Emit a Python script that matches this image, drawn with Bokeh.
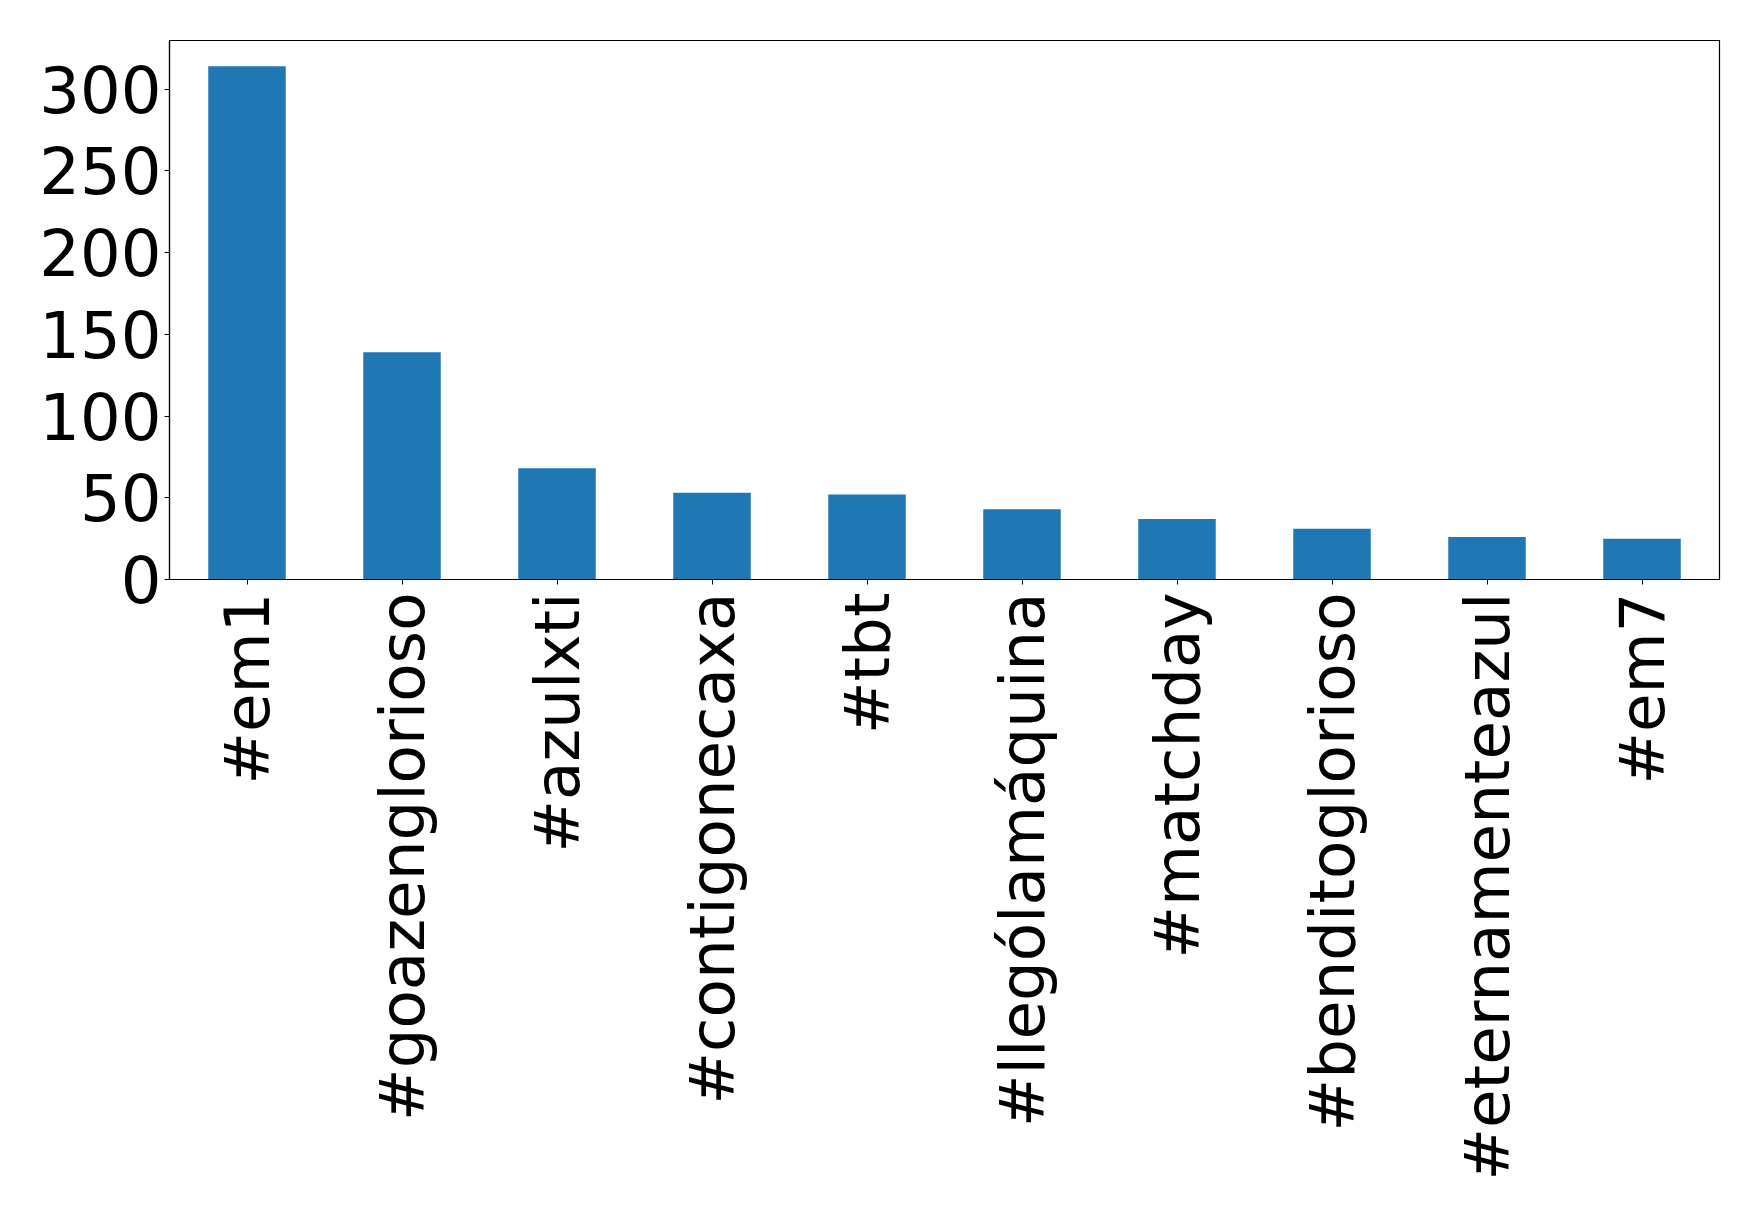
import math
from bokeh.plotting import figure
from bokeh.models import ColumnDataSource, FactorRange, Range1d, FixedTicker
from bokeh.embed import file_html
from bokeh.resources import INLINE

hashtags = ["#em1", "#goazenglorioso", "#azulxti", "#contigonecaxa", "#tbt",
            "#llególamáquina", "#matchday", "#benditoglorioso", "#eternamenteazul", "#em7"]
counts = [314, 139, 68, 53, 52, 43, 37, 31, 26, 25]
y_ticks = [0, 50, 100, 150, 200, 250, 300]

src = ColumnDataSource(data=dict(tag=hashtags, count=counts))

p = figure(
    x_range=FactorRange(factors=hashtags, range_padding=0),
    y_range=Range1d(0, max(counts) * 1.05),
    width=1743, height=1190,
    frame_width=1550, frame_height=539,
    min_border_left=169, min_border_top=40, min_border_right=24, min_border_bottom=40,
    output_backend="svg", toolbar_location=None,
    background_fill_color="white", border_fill_color="white",
)

p.vbar(x="tag", top="count", width=0.5, source=src,
       fill_color="#1f77b4", line_color=None)

p.outline_line_color = "black"
p.outline_line_width = 1.2
p.xgrid.grid_line_color = None
p.ygrid.grid_line_color = None

for ax in (p.xaxis[0], p.yaxis[0]):
    ax.axis_line_color = "black"
    ax.axis_line_width = 1.2
    ax.major_tick_out = 5
    ax.major_tick_in = 0
    ax.major_tick_line_color = "black"
    ax.minor_tick_line_color = None
    ax.major_label_text_font = "DejaVu Sans"
    ax.major_label_text_color = "black"

p.yaxis[0].major_label_text_font_size = "64px"
p.xaxis[0].major_label_text_font_size = "62.7px"
p.yaxis[0].ticker = FixedTicker(ticks=y_ticks)
p.yaxis[0].major_label_standoff = 3
p.xaxis[0].major_label_orientation = math.pi / 2
p.xaxis[0].major_label_standoff = 8

open("out.html", "w").write(file_html(p, INLINE))
